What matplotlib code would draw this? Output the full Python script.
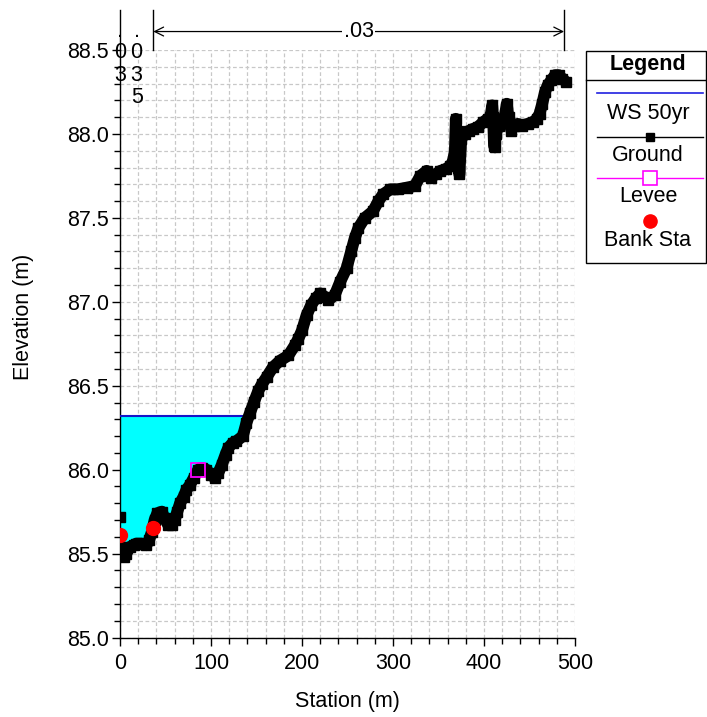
import matplotlib
matplotlib.use('Agg')
import matplotlib.pyplot as plt
import numpy as np
from matplotlib.patches import Rectangle
from matplotlib.lines import Line2D

plt.rcParams['font.family'] = ['Liberation Sans', 'DejaVu Sans']

# ---------------- data ----------------
ground_sta = [0, 0, 2, 4, 7, 11, 15, 18, 24, 29, 32, 35, 38, 41, 46, 49, 53, 57, 60, 63,
              66, 70, 73, 77, 81, 86, 90, 95, 100, 104, 108, 112, 116, 119, 124, 128, 135,
              139, 143, 147, 152, 156, 161, 168, 176, 185, 192, 196, 200, 205, 210, 215,
              220, 225, 229, 236, 242, 249, 254, 258, 262, 269, 278, 284, 289, 297, 305,
              315, 324, 330, 337, 342, 347, 352, 358, 363, 366, 368, 369, 370, 371, 372,
              373, 375, 379, 384, 388, 393, 399, 404, 407, 409, 410, 411, 412, 413, 416,
              420, 423, 425, 427, 430, 433, 437, 442, 448, 454, 458, 461, 464, 467, 470,
              474, 478, 482, 486, 490]
ground_elev = [85.72, 85.54, 85.49, 85.48, 85.50, 85.54, 85.55, 85.56, 85.56, 85.55, 85.58,
               85.63, 85.70, 85.74, 85.75, 85.71, 85.67, 85.67, 85.70, 85.75, 85.80, 85.84,
               85.88, 85.91, 85.95, 86.00, 86.01, 86.00, 85.97, 85.95, 85.98, 86.03, 86.09,
               86.13, 86.16, 86.17, 86.20, 86.28, 86.34, 86.40, 86.47, 86.51, 86.55, 86.61,
               86.65, 86.68, 86.74, 86.78, 86.83, 86.92, 86.98, 87.02, 87.05, 87.03, 87.01,
               87.04, 87.12, 87.20, 87.30, 87.38, 87.44, 87.50, 87.54, 87.60, 87.64, 87.67,
               87.67, 87.68, 87.69, 87.75, 87.78, 87.74, 87.76, 87.78, 87.79, 87.81, 87.84,
               87.90, 88.09, 87.95, 88.02, 87.78, 87.76, 87.97, 88.00, 88.02, 88.03, 88.04,
               88.07, 88.09, 88.10, 88.17, 88.10, 87.93, 87.92, 88.00, 88.05, 88.08, 88.11,
               88.18, 88.10, 88.02, 88.05, 88.06, 88.05, 88.06, 88.07, 88.09, 88.12, 88.18,
               88.25, 88.29, 88.32, 88.35, 88.35, 88.33, 88.31]
ws_elev = 86.32
bank_sta = [0.0, 36.6]
bank_elev = [85.61, 85.655]
levee_sta = [86.0]
levee_elev = [86.0]
n_break_sta = [0.0, 36.6, 488.0]
n_values = ['.03', '.035', '.03']
legend_labels = ['WS 50yr', 'Ground', 'Levee', 'Bank Sta']

W, H = 707, 717
fig = plt.figure(figsize=(W / 100, H / 100), dpi=100)
FS = 15.5

def fx(px):
    return px / W

def fy(py):
    return 1 - py / H

ax_left, ax_right, ax_top, ax_bot = 120, 575, 50, 637.5
ax = fig.add_axes([fx(ax_left), fy(ax_bot), (ax_right - ax_left) / W, (ax_bot - ax_top) / H])
ax.set_xlim(0, 500)
ax.set_ylim(85.0, 88.5)

# grid
ax.set_xticks(np.arange(0, 501, 100))
ax.set_xticks(np.arange(0, 501, 20), minor=True)
ax.set_yticks(np.arange(85.0, 88.51, 0.5))
ax.set_yticks(np.arange(85.0, 88.51, 0.1), minor=True)
ax.yaxis.set_major_formatter(matplotlib.ticker.FormatStrFormatter('%.1f'))
ax.grid(True, which='both', color='#c8c8c8', linestyle=(0, (3, 2)), linewidth=0.9)
ax.set_axisbelow(True)
for s in ['top', 'right']:
    ax.spines[s].set_visible(False)
ax.spines['left'].set_linewidth(1.0)
ax.spines['bottom'].set_linewidth(1.0)
ax.tick_params(which='major', direction='out', length=6, width=1, labelsize=FS)
ax.tick_params(which='minor', direction='out', length=4, width=1)
ax.tick_params(axis='x', which='major', pad=5)
ax.tick_params(axis='y', which='major', pad=2)

sta = np.array(ground_sta, dtype=float)
elev = np.array(ground_elev, dtype=float)

# water surface extent
main_sta = sta[1:]
main_elev = elev[1:]
idx = np.where(main_elev >= ws_elev)[0][0]
x0, x1 = main_sta[idx - 1], main_sta[idx]
y0, y1 = main_elev[idx - 1], main_elev[idx]
x_ws = x0 + (ws_elev - y0) * (x1 - x0) / (y1 - y0)
mask_sta = np.concatenate([main_sta[:idx], [x_ws]])
mask_elev = np.concatenate([main_elev[:idx], [ws_elev]])
ax.fill_between(mask_sta, mask_elev, ws_elev, color='#00ffff', zorder=2, linewidth=0)
ax.plot([0, x_ws], [ws_elev, ws_elev], color='#1515c8', lw=1.5, zorder=3)

# ground
ax.plot(main_sta, main_elev, color='black', lw=8.5, zorder=4, solid_joinstyle='round',
        solid_capstyle='round')
ax.plot(sta, elev, color='black', lw=1, marker='s', ms=7.5, zorder=5, linestyle='-')

# levee and banks
ax.plot(levee_sta, levee_elev, linestyle='none', marker='s', ms=10, mfc='none',
        mec='#ff00ff', mew=1.3, zorder=6)
ax.plot(bank_sta, bank_elev, linestyle='none', marker='o', ms=10, color='#ff0000', zorder=7)

# n value markers above plot
top_line = 88.74
for s in n_break_sta:
    ax.plot([s, s], [88.5, top_line], color='black', lw=1, clip_on=False, zorder=8)
ax.annotate('', xy=(n_break_sta[1], 88.61), xytext=(n_break_sta[2], 88.61),
            arrowprops=dict(arrowstyle='<->', color='black', lw=0.9, mutation_scale=16,
                            shrinkA=0, shrinkB=0), annotation_clip=False)
ax.text((n_break_sta[1] + n_break_sta[2]) / 2, 88.61, n_values[2], ha='center', va='center',
        fontsize=FS, bbox=dict(facecolor='white', edgecolor='none', pad=1), clip_on=False,
        zorder=9)

def py_to_elev(py):
    return 85.0 + (ax_bot - py) / ((ax_bot - ax_top) / 3.5)

baselines = [37, 58.5, 81, 103]
cols = [(n_break_sta[0], n_values[0]), ((n_break_sta[0] + n_break_sta[1]) / 2, n_values[1])]
for cx_, val in cols:
    for i, ch in enumerate(val):
        ax.text(cx_, py_to_elev(baselines[i]), ch, ha='center', va='baseline', fontsize=FS,
                clip_on=False, zorder=9)

# axis labels
fig.text(fx(24), fy(317), 'Elevation (m)', rotation=90, ha='center', va='center', fontsize=FS)
fig.text(fx(347.5), fy(702), 'Station (m)', ha='center', va='center', fontsize=FS)

# legend box
bx0, bx1, by0, by1 = 586, 706, 50.7, 262.7
fig.patches.append(Rectangle((fx(bx0), fy(by1)), (bx1 - bx0) / W, (by1 - by0) / H,
                             transform=fig.transFigure, facecolor='white', edgecolor='black',
                             lw=1, zorder=1))
cx = 648
fig.lines.append(Line2D([fx(bx0), fx(bx1)], [fy(80), fy(80)], transform=fig.transFigure,
                        color='black', lw=1))
fig.text(fx(cx), fy(64.5), 'Legend', ha='center', va='center', fontsize=FS, fontweight='bold')
lx0, lx1 = 597, 703
fig.lines.append(Line2D([fx(lx0), fx(lx1)], [fy(92.7)] * 2, transform=fig.transFigure,
                        color='#2020e0', lw=1.2))
fig.text(fx(cx), fy(113), legend_labels[0], ha='center', va='center', fontsize=FS)
fig.lines.append(Line2D([fx(lx0), fx(lx1)], [fy(136.7)] * 2, transform=fig.transFigure,
                        color='black', lw=1))
fig.lines.append(Line2D([fx(649.5)], [fy(136.7)], transform=fig.transFigure, color='black',
                        marker='s', ms=5.2, linestyle='none'))
fig.text(fx(cx), fy(155.5), legend_labels[1], ha='center', va='center', fontsize=FS)
fig.lines.append(Line2D([fx(lx0), fx(lx1)], [fy(178.3)] * 2, transform=fig.transFigure,
                        color='#ff00ff', lw=1))
fig.lines.append(Line2D([fx(649.5)], [fy(178.3)], transform=fig.transFigure, marker='s',
                        ms=9.5, mfc='white', mec='#ff00ff', mew=1.2, linestyle='none'))
fig.text(fx(cx), fy(197), legend_labels[2], ha='center', va='center', fontsize=FS)
fig.lines.append(Line2D([fx(649.5)], [fy(221)], transform=fig.transFigure, marker='o',
                        ms=9.5, color='#ff0000', linestyle='none'))
fig.text(fx(cx), fy(240.5), legend_labels[3], ha='center', va='center', fontsize=FS)

fig.savefig('out.png', dpi=100)
